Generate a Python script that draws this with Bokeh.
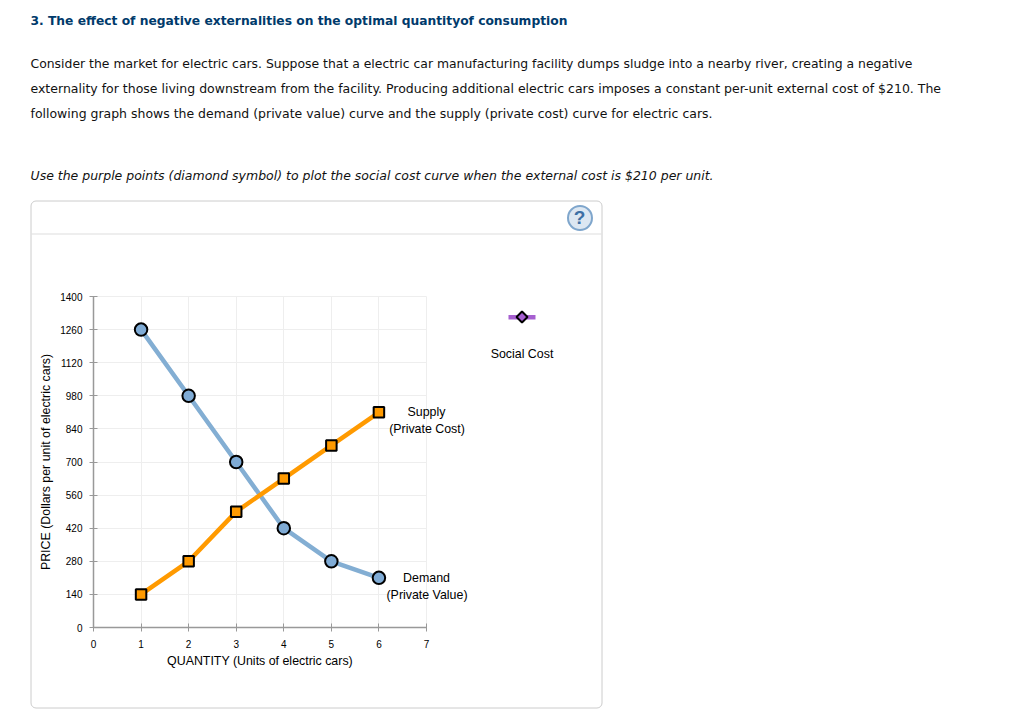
from bokeh.plotting import figure
from bokeh.models import Label, BoxAnnotation, PolyAnnotation, Range1d, FixedTicker
from bokeh.embed import file_html
from bokeh.resources import INLINE

# ---- data
quantity = [1, 2, 3, 4, 5, 6]
demand = [1260, 980, 700, 420, 280, 210]
supply = [140, 280, 490, 630, 770, 910]
x_ticks = [0, 1, 2, 3, 4, 5, 6, 7]
y_ticks = [0, 140, 280, 420, 560, 700, 840, 980, 1120, 1260, 1400]
title_text = "3. The effect of negative externalities on the optimal quantityof consumption"
body_lines = [
    "Consider the market for electric cars. Suppose that a electric car manufacturing facility dumps sludge into a nearby river, creating a negative",
    "externality for those living downstream from the facility. Producing additional electric cars imposes a constant per-unit external cost of $210. The",
    "following graph shows the demand (private value) curve and the supply (private cost) curve for electric cars.",
]
instruction = "Use the purple points (diamond symbol) to plot the social cost curve when the external cost is $210 per unit."
x_title = "QUANTITY (Units of electric cars)"
y_title = "PRICE (Dollars per unit of electric cars)"

W, H = 1016, 709
ARIAL = "Liberation Sans"
BODY = "DejaVu Sans"

# the frame covers the whole figure so that page furniture is not clipped
PX_X = (426 - 93) / 7
PX_Y = (627 - 296) / 1400
p = figure(width=W, height=H, output_backend="svg", toolbar_location=None,
           x_range=Range1d(-93 / PX_X, (W - 93) / PX_X),
           y_range=Range1d(-(H - 627) / PX_Y, 627 / PX_Y),
           min_border_left=0, min_border_right=0, min_border_top=0, min_border_bottom=0)
p.outline_line_color = None
p.background_fill_color = None

for ax, ticks, lab, bounds in ((p.xaxis[0], x_ticks, x_title, (0, 7)), (p.yaxis[0], y_ticks, y_title, (0, 1400))):
    ax.fixed_location = 0
    ax.bounds = bounds
    ax.ticker = FixedTicker(ticks=ticks)
    ax.axis_label = lab
    ax.axis_label_text_font = ARIAL
    ax.axis_label_text_font_size = "12.4px"
    ax.axis_label_text_font_style = "normal"
    ax.axis_label_text_color = "#000000"
    ax.major_label_text_font = ARIAL
    ax.major_label_text_font_size = "10px"
    ax.major_label_text_color = "#000000"
    ax.axis_line_color = "#999999"
    ax.axis_line_width = 1.5
    ax.major_tick_line_color = "#999999"
    ax.major_tick_line_width = 1
    ax.major_tick_in = 4
    ax.major_tick_out = 4
    ax.minor_tick_line_color = None
p.xaxis[0].major_label_standoff = 8
p.xaxis[0].axis_label_standoff = 3
p.yaxis[0].major_label_standoff = 7
p.yaxis[0].axis_label_standoff = 4

p.xgrid[0].ticker = FixedTicker(ticks=x_ticks)
p.ygrid[0].ticker = FixedTicker(ticks=y_ticks)
p.xgrid[0].cross_bounds = (0, 1400)
p.ygrid[0].cross_bounds = (0, 7)
p.grid.grid_line_color = "#EEEEEE"
p.grid.grid_line_width = 1

p.line(quantity, demand, line_color="#83AED3", line_width=4.5)
p.line(quantity, supply, line_color="#FF9A00", line_width=4.5)
p.scatter(quantity, demand, marker="circle", size=12.5, fill_color="#7FABD5",
          line_color="#000000", line_width=2)
p.scatter(quantity, supply, marker="square", size=10.5, fill_color="#FF9A00",
          line_color="#000000", line_width=2)


def canvas_text(x, y, text, size, font=BODY, color="#000000", style="normal", align="left"):
    p.add_layout(Label(x=x, y=y, x_units="canvas", y_units="canvas", text=text,
                       text_font=font, text_font_size=size, text_color=color,
                       text_font_style=style, text_align=align, text_baseline="middle",
                       level="overlay"))


def canvas_box(l, r, t, b, level="underlay", **kw):
    p.add_layout(BoxAnnotation(left=l, right=r, top=t, bottom=b,
                               left_units="canvas", right_units="canvas",
                               top_units="canvas", bottom_units="canvas",
                               level=level, line_alpha=1, **kw))


canvas_text(30, 20.5, title_text, "12.27px", color="#003A6B", style="bold")
for yy, line, size in zip((63, 88, 113), body_lines, ("12.41px", "12.5px", "12.48px")):
    canvas_text(30, yy, line, size, color="#111111")
canvas_text(30, 175, instruction, "12.49px", color="#111111", style="italic")

# card and help button
canvas_box(30.5, 601.5, 200.5, 707.5, fill_alpha=0, line_color="#CCCCCC", line_width=1, border_radius=5)
canvas_box(31, 601, 233, 234, fill_color="#DDDDDD", fill_alpha=1, line_color=None)
canvas_box(567.5, 591.5, 205.5, 229.5, fill_color="#DCE7F2", fill_alpha=1, line_color="#7FA6CC",
           line_width=2, border_radius=12)
canvas_text(579, 217, "?", "19px", font=ARIAL, color="#3D6FA5", style="bold", align="center")

# legend key
canvas_box(508, 535, 314.5, 319, level="overlay", fill_color="#A65FD0", fill_alpha=1, line_color=None)
p.add_layout(PolyAnnotation(xs=[521.5, 527, 521.5, 516],
                            ys=[311, 316.5, 322, 316.5],
                            xs_units="canvas", ys_units="canvas", level="overlay",
                            fill_color="#A65FD0", fill_alpha=1, line_color="#000000",
                            line_alpha=1, line_width=2))
canvas_text(521.5, 353.5, "Social Cost", "12.4px", font=ARIAL, align="center")

canvas_text(426, 411, "Supply", "12.4px", font=ARIAL, align="center")
canvas_text(426.5, 428, "(Private Cost)", "12.4px", font=ARIAL, align="center")
canvas_text(426, 577, "Demand", "12.4px", font=ARIAL, align="center")
canvas_text(426.5, 594, "(Private Value)", "12.4px", font=ARIAL, align="center")

open("out.html", "w").write(file_html(p, INLINE))
